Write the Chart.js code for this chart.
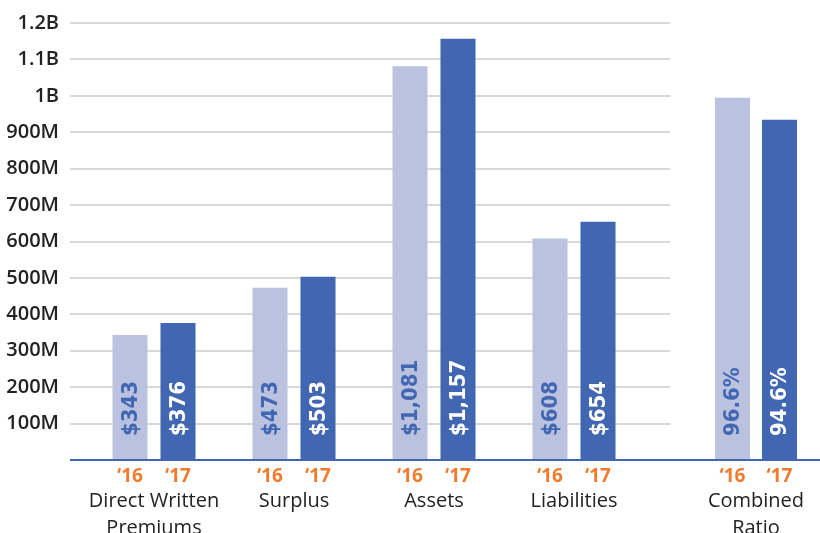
<!DOCTYPE html>
<html lang="en">
<head>
  <meta charset="UTF-8" />
  <title>2016 vs 2017 Results</title>
  <script src="https://cdn.jsdelivr.net/npm/chart.js"></script>
  <style>
    html, body {
      margin: 0;
      background: #fff;
    }
    #wrap {
      width: 820px;
      height: 533px;
    }
  </style>
</head>
<body>

<div id="wrap"><canvas id="resultsChart"></canvas></div>

<script>
  const categories = [['Direct Written', 'Premiums'], 'Surplus', 'Assets', 'Liabilities', ['Combined', 'Ratio']];

  // dollar groups, in millions
  const values16 = [343, 473, 1081, 608];
  const values17 = [376, 503, 1157, 654];

  // combined ratio (last category), percent
  const ratio16 = [null, null, null, null, 96.6];
  const ratio17 = [null, null, null, null, 94.6];

  const years = ['\u201816', '\u201817'];
  const yTicks = [100, 200, 300, 400, 500, 600, 700, 800, 900, 1000, 1100, 1200];

  const LIGHT = '#bac2e0';
  const DARK = '#4267b2';

  function tickLabel(v) {
    return v >= 1000 ? (v / 1000) + 'B' : v + 'M';
  }

  // every box in the bottom stack gets the same height, no side padding
  function bottomFit(s) {
    s.height = 73;
    s.paddingLeft = 0;
    s.paddingRight = 0;
  }

  // light grey gridlines, stopping between the dollar bars and the ratio bars
  const gridPlugin = {
    id: 'gridLines',
    beforeDatasetsDraw(chart) {
      const {ctx, chartArea, scales} = chart;
      const lastMoney = chart.getDatasetMeta(1).data[values17.length - 1];
      const firstRatio = chart.getDatasetMeta(2).data[ratio16.length - 1];
      const endX = (lastMoney.x + lastMoney.width / 2 + firstRatio.x - firstRatio.width / 2) / 2 + 5;
      ctx.save();
      ctx.strokeStyle = '#d9d9d9';
      ctx.lineWidth = 2;
      yTicks.forEach(v => {
        const y = Math.round(scales.y.getPixelForValue(v));
        ctx.beginPath();
        ctx.moveTo(chartArea.left, y);
        ctx.lineTo(endX, y);
        ctx.stroke();
      });
      ctx.restore();
    }
  };

  // value labels inside bars, year labels under bars, blue baseline
  const labelPlugin = {
    id: 'barLabels',
    afterDatasetsDraw(chart) {
      const {ctx, chartArea} = chart;
      ctx.save();
      chart.data.datasets.forEach((ds, i) => {
        const meta = chart.getDatasetMeta(i);
        meta.data.forEach((bar, j) => {
          const v = ds.data[j];
          if (v === null || v === undefined) return;
          const txt = ds.isRatio ? v.toFixed(1) + '%' : '$' + v.toLocaleString('en-US');
          ctx.save();
          ctx.translate(bar.x, chartArea.bottom - 24);
          ctx.rotate(-Math.PI / 2);
          ctx.font = 'bold 22px "Liberation Sans Narrow", "DejaVu Sans Condensed", sans-serif';
          ctx.fillStyle = ds.yearIndex === 0 ? DARK : '#ffffff';
          ctx.textAlign = 'left';
          ctx.textBaseline = 'middle';
          ctx.fillText(txt, 0, 1);
          ctx.restore();

          ctx.font = 'bold 19px "Open Sans", sans-serif';
          ctx.fillStyle = '#f37a2c';
          ctx.textAlign = 'center';
          ctx.textBaseline = 'middle';
          ctx.fillText(years[ds.yearIndex], bar.x, chartArea.bottom + 17);
        });
      });

      ctx.strokeStyle = DARK;
      ctx.lineWidth = 2;
      ctx.beginPath();
      ctx.moveTo(chartArea.left, chartArea.bottom);
      ctx.lineTo(chartArea.right, chartArea.bottom);
      ctx.stroke();
      ctx.restore();
    }
  };

  const groupTicks = {
    font: { family: 'Open Sans', size: 20, lineHeight: 1.35 },
    color: '#222',
    padding: 28,
    maxRotation: 0,
    autoSkip: false
  };

  // the two y axes make Chart.js reserve four bar slots per category;
  // dollar bars fill slots 0-1, ratio bars slots 1-2
  const barOpts = { skipNull: true, clip: false, categoryPercentage: 1.3714, barPercentage: 0.73 };
  const ratioOpts = { skipNull: true, categoryPercentage: 1.46875, barPercentage: 0.745 };

  const ctx = document.getElementById('resultsChart').getContext('2d');
  new Chart(ctx, {
    type: 'bar',
    data: {
      datasets: [
        { label: '2016', data: values16, xAxisID: 'x', yAxisID: 'y', backgroundColor: LIGHT,
          yearIndex: 0, ...barOpts },
        { label: '2017', data: values17, xAxisID: 'x', yAxisID: 'y', backgroundColor: DARK,
          yearIndex: 1, ...barOpts },
        { label: '2016 ratio', data: ratio16, xAxisID: 'x2', yAxisID: 'y2', backgroundColor: LIGHT,
          yearIndex: 0, isRatio: true, ...ratioOpts },
        { label: '2017 ratio', data: ratio17, xAxisID: 'x2', yAxisID: 'y2', backgroundColor: DARK,
          yearIndex: 1, isRatio: true, ...ratioOpts }
      ]
    },
    options: {
      responsive: true,
      maintainAspectRatio: false,
      animation: false,
      layout: { padding: { top: 23, right: 0, bottom: 0, left: 0 } },
      plugins: {
        legend: { display: false },
        tooltip: { enabled: false }
      },
      scales: {
        y: {
          position: 'left',
          min: 0,
          max: 1200,
          afterBuildTicks: s => { s.ticks = yTicks.map(v => ({ value: v })); },
          afterFit: s => { s.width = 70; },
          grid: { display: false, drawTicks: false },
          border: { display: false },
          ticks: {
            callback: tickLabel,
            font: { family: 'Open Sans', size: 20, weight: '600' },
            color: '#222',
            padding: 11
          }
        },
        y2: {
          position: 'right',
          display: false,
          min: 63.7,
          max: 103.4
        },
        xPad: {
          type: 'category', labels: [''], position: 'bottom',
          stack: 'bottom', stackWeight: 62, weight: 1, display: false,
          afterFit: bottomFit
        },
        x: {
          type: 'category', labels: categories, max: 3, position: 'bottom',
          stack: 'bottom', stackWeight: 560, weight: 2,
          afterFit: bottomFit,
          grid: { display: false, drawTicks: false },
          border: { display: false },
          ticks: { ...groupTicks, labelOffset: -48 }
        },
        x2: {
          type: 'category', labels: categories, min: 4, position: 'bottom',
          stack: 'bottom', stackWeight: 128, weight: 3,
          afterFit: bottomFit,
          grid: { display: false, drawTicks: false },
          border: { display: false },
          ticks: groupTicks
        }
      }
    },
    plugins: [gridPlugin, labelPlugin]
  });
</script>

</body>
</html>
